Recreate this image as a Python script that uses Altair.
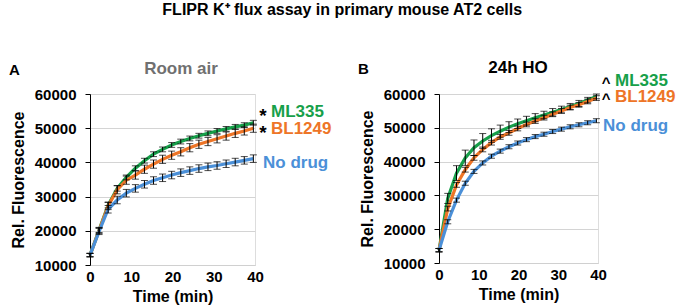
import altair as alt
import pandas as pd

FONT = "Liberation Sans"

time_min = [0, 2.2, 4.4, 6.6, 8.8, 11, 13.2, 15.4, 17.6, 19.8, 22, 24.2, 26.4, 28.6, 30.8, 33, 35.2, 37.4, 39.6]

# Panel A: Room air
a_ml335 = [12900, 20200, 27500, 32400, 35600, 38300, 40500, 42400, 43800, 45100, 46100, 47000, 47800, 48500, 49200, 49800, 50400, 50900, 51600]
a_bl1249 = [12900, 20100, 27300, 32000, 34800, 36300, 38000, 39500, 40900, 42100, 43100, 44300, 45300, 46100, 46900, 47700, 48500, 49200, 50000]
a_nodrug = [12900, 19800, 26300, 29000, 31000, 32400, 33600, 34700, 35500, 36300, 37000, 37600, 38200, 38700, 39100, 39600, 40100, 40600, 41100]
a_err_ml335 = [500, 700, 800, 800, 700, 700, 700, 700, 700, 700, 700, 700, 700, 700, 700, 700, 700, 700, 700]
a_err_bl1249 = [500, 900, 1100, 1200, 1200, 1200, 1200, 1200, 1200, 1200, 1200, 1200, 1200, 1200, 1200, 1200, 1200, 1200, 1200]
a_err_nodrug = [500, 900, 1100, 1100, 1100, 1100, 1100, 1100, 1100, 1100, 1100, 1100, 1100, 1100, 1100, 1100, 1100, 1100, 1100]

# Panel B: 24h HO
b_ml335 = [13800, 29100, 36600, 41100, 44100, 46100, 47700, 49000, 50200, 51200, 52100, 53000, 53800, 54600, 55400, 56300, 57200, 58200, 59300]
b_bl1249 = [13800, 26100, 33100, 37600, 41100, 43600, 45600, 47300, 48500, 49800, 51000, 52000, 53000, 54000, 55000, 56000, 56800, 57800, 58800]
b_nodrug = [13800, 22200, 28600, 33600, 37100, 39600, 41600, 43100, 44400, 45500, 46500, 47400, 48100, 48900, 49600, 50300, 50900, 51500, 52100]
b_err_ml335 = [500, 1500, 2200, 2300, 2300, 2200, 2000, 1800, 1600, 1400, 1300, 1200, 1100, 1100, 1000, 900, 900, 800, 700]
b_err_bl1249 = [500, 700, 700, 700, 700, 700, 700, 700, 700, 700, 700, 700, 700, 700, 700, 700, 700, 700, 700]
b_err_nodrug = [500, 600, 600, 600, 600, 600, 600, 600, 600, 600, 600, 600, 600, 600, 600, 600, 600, 600, 600]

series_names = ["ML335", "BL1249", "No drug"]
series_colors = ["#17a04a", "#ee7527", "#4b90d8"]
y_ticks = [10000, 20000, 30000, 40000, 50000, 60000]
x_ticks = [0, 10, 20, 30, 40]


def make_df(vals_list, errs_list):
    rows = []
    for name, vals, errs in zip(series_names, vals_list, errs_list):
        for t, v, e in zip(time_min, vals, errs):
            rows.append({"time": t, "value": v, "lo": v - e, "hi": v + e, "series": name})
    return pd.DataFrame(rows)


dummy = pd.DataFrame({"k": [0]})


def txt(text, x, y, color="black", size=17, align="left", weight="bold"):
    return alt.Chart(dummy).mark_text(
        text=text, font=FONT, fontSize=size, fontWeight=weight, color=color,
        align=align, baseline="middle"
    ).encode(x=alt.value(x), y=alt.value(y))


def panel(df, width, height, annotations):
    xs = alt.Scale(domain=[0, 40], nice=False)
    ys = alt.Scale(domain=[10000, 60000], nice=False)
    color = alt.Color("series:N", scale=alt.Scale(domain=series_names, range=series_colors), legend=None)
    x_axis = alt.Axis(values=x_ticks, title="Time (min)", grid=False, ticks=False,
                      domainColor="#d0d0d0", labelFont=FONT, labelFontSize=15, labelFontWeight="bold",
                      labelColor="black", labelPadding=4, labelOverlap=False, labelFlush=False,
                      titleFont=FONT, titleFontSize=16,
                      titleFontWeight="bold", titleColor="black", titlePadding=4)
    y_axis = alt.Axis(values=y_ticks, format="d", title="Rel. Fluorescence", grid=True,
                      gridColor="#d4d4d4", domainColor="black", tickColor="black", tickSize=5,
                      labelFont=FONT, labelFontSize=15, labelFontWeight="bold", labelColor="black",
                      labelPadding=9, labelOverlap=False, labelFlush=False,
                      titleFont=FONT, titleFontSize=16, titleFontWeight="bold",
                      titleColor="black", titlePadding=8)
    base = alt.Chart(df)
    lines = base.mark_line(strokeWidth=3.2).encode(
        x=alt.X("time:Q", scale=xs, axis=x_axis),
        y=alt.Y("value:Q", scale=ys, axis=y_axis),
        color=color,
        detail="series:N",
    )
    bars = base.mark_errorbar(ticks=alt.MarkConfig(size=7), color="black", thickness=1).encode(
        x=alt.X("time:Q", scale=xs, axis=x_axis),
        y=alt.Y("lo:Q", scale=ys, axis=y_axis),
        y2="hi:Q",
        detail="series:N",
    )
    return alt.layer(lines, bars, *annotations).properties(width=width, height=height)


df_a = make_df([a_ml335, a_bl1249, a_nodrug], [a_err_ml335, a_err_bl1249, a_err_nodrug])
df_b = make_df([b_ml335, b_bl1249, b_nodrug], [b_err_ml335, b_err_bl1249, b_err_nodrug])

ann_a = [
    txt("A", -81, -24, size=15),
    txt("Room air", 91, -25, color="#707070", size=17, align="center"),
    txt("*", 173, 22, size=19, align="center"),
    txt("ML335", 181, 18, color=series_colors[0]),
    txt("*", 173, 39, size=19, align="center"),
    txt("BL1249", 181, 35, color=series_colors[1]),
    txt("No drug", 173, 69, color=series_colors[2]),
]
ann_b = [
    txt("^", 167, -11, size=15, align="center"),
    txt("B", -81, -25, size=15),
    txt("24h HO", 79, -26, size=17, align="center"),
    txt("ML335", 176, -13, color=series_colors[0]),
    txt("^", 167, 5, size=15, align="center"),
    txt("BL1249", 176, 3, color=series_colors[1]),
    txt("No drug", 164, 32, color=series_colors[2]),
]

pa = panel(df_a, 165, 171, ann_a)
pb = panel(df_b, 159, 169, ann_b)

chart = alt.hconcat(pa, pb, spacing=25).properties(
    title=alt.TitleParams(
        "FLIPR K\u207a flux assay in primary mouse AT2 cells",
        font=FONT, fontSize=16, fontWeight="bold", color="black", anchor="middle", offset=41,
    ),
    padding={"left": 8, "top": 1, "right": 0, "bottom": 0},
).configure_view(stroke=None).configure_axis(labelOverlap=False).configure(background="white")

chart.save("out.html", embed_options={"renderer": "svg", "actions": False})
